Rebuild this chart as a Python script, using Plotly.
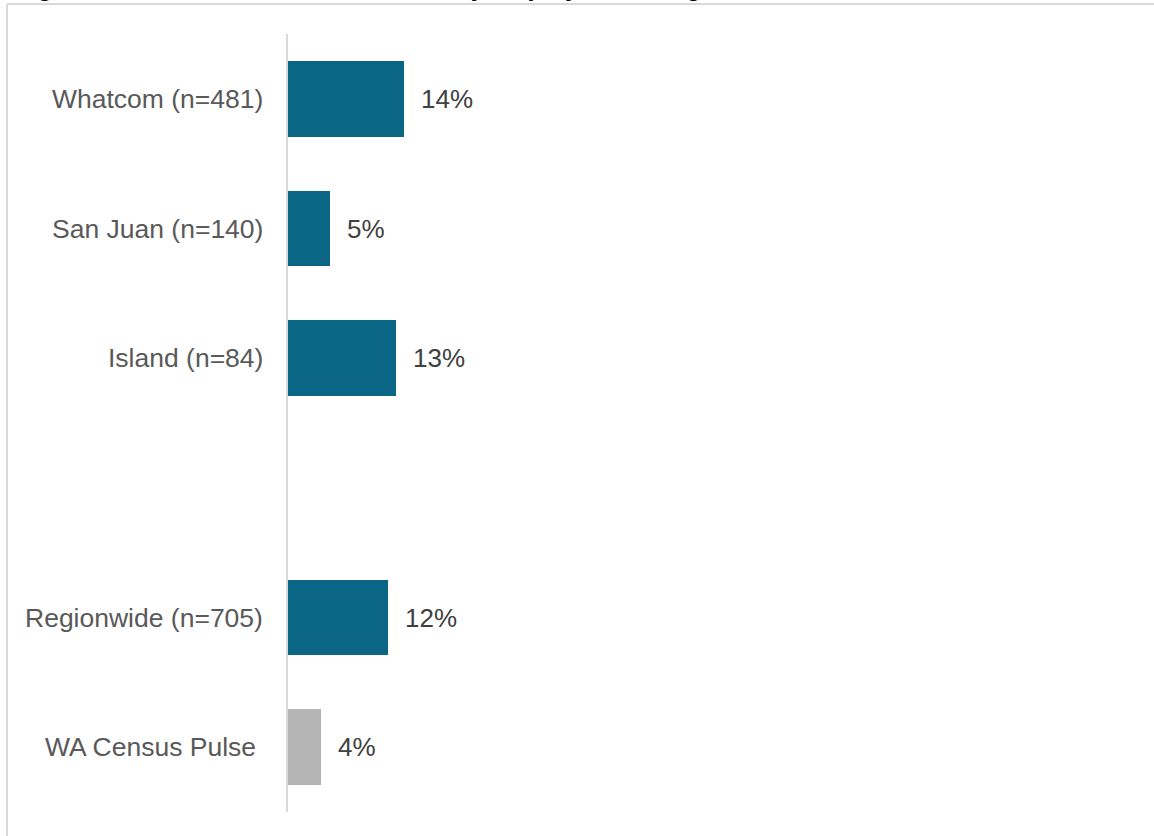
import plotly.graph_objects as go

# Survey results by county (percent of respondents)
categories = ["Whatcom (n=481)", "San Juan (n=140)", "Island (n=84)",
              "Regionwide (n=705)", "WA Census Pulse\u00a0"]
values = [14, 5, 13, 12, 4]
slots = [0, 1, 2, 4, 5]          # row 3 is left empty as a spacer
value_labels = ["14%", "5%", "13%", "12%", "4%"]
bar_colors = ["#0b6585", "#0b6585", "#0b6585", "#0b6585", "#b4b4b4"]
title_text = "Figure 10: Share of residents laid off by employers during COVID-19"

W, H = 1154, 836
ML, MR, MT, MB = 288, 0, 34, 24
PX_PER_UNIT = 8.3
plot_w = W - ML - MR
plot_h = H - MT - MB

FONT = "Arial, 'Liberation Sans', sans-serif"


def paper_x(px):
    return (px - ML) / plot_w


def paper_y(py):
    return (H - MB - py) / plot_h


fig = go.Figure(
    go.Bar(
        x=values,
        y=slots,
        orientation="h",
        width=0.586,
        marker=dict(color=bar_colors, line=dict(width=0)),
        hoverinfo="skip",
    )
)

annotations = []
for cat, slot in zip(categories, slots):
    annotations.append(dict(
        x=0, y=slot, xref="x", yref="y", text=cat, showarrow=False,
        xanchor="right", yanchor="middle", xshift=-23,
        font=dict(family=FONT, size=26.5, color="#595959"),
    ))
for v, slot, lab in zip(values, slots, value_labels):
    annotations.append(dict(
        x=v, y=slot, xref="x", yref="y", text=lab, showarrow=False,
        xanchor="left", yanchor="middle", xshift=15,
        font=dict(family=FONT, size=26, color="#404040"),
    ))

# Title sits above the chart frame, running off the top of the page
annotations.append(dict(
    x=paper_x(13), y=paper_y(3), xref="paper", yref="paper",
    text="<b>" + title_text + "</b>", showarrow=False,
    xanchor="left", yanchor="bottom",
    font=dict(family=FONT, size=25, color="#000000"),
))

frame = dict(color="#d9d9d9", width=2)
shapes = [
    dict(type="line", xref="paper", yref="paper",
         x0=paper_x(7), x1=paper_x(W + 10), y0=paper_y(4), y1=paper_y(4), line=frame),
    dict(type="line", xref="paper", yref="paper",
         x0=paper_x(7), x1=paper_x(7), y0=paper_y(4), y1=paper_y(H + 10), line=frame),
]

fig.update_layout(
    width=W, height=H,
    margin=dict(l=ML, r=MR, t=MT, b=MB, pad=0),
    paper_bgcolor="white", plot_bgcolor="white",
    showlegend=False,
    annotations=annotations,
    shapes=shapes,
    xaxis=dict(range=[0, plot_w / PX_PER_UNIT], visible=False, fixedrange=True),
    yaxis=dict(range=[5.5, -0.5], showticklabels=False, ticks="", showgrid=False,
               zeroline=False, showline=True, linecolor="#d9d9d9", linewidth=2,
               fixedrange=True),
    bargap=0,
)

fig.write_html("out.html", config={"displayModeBar": False})
